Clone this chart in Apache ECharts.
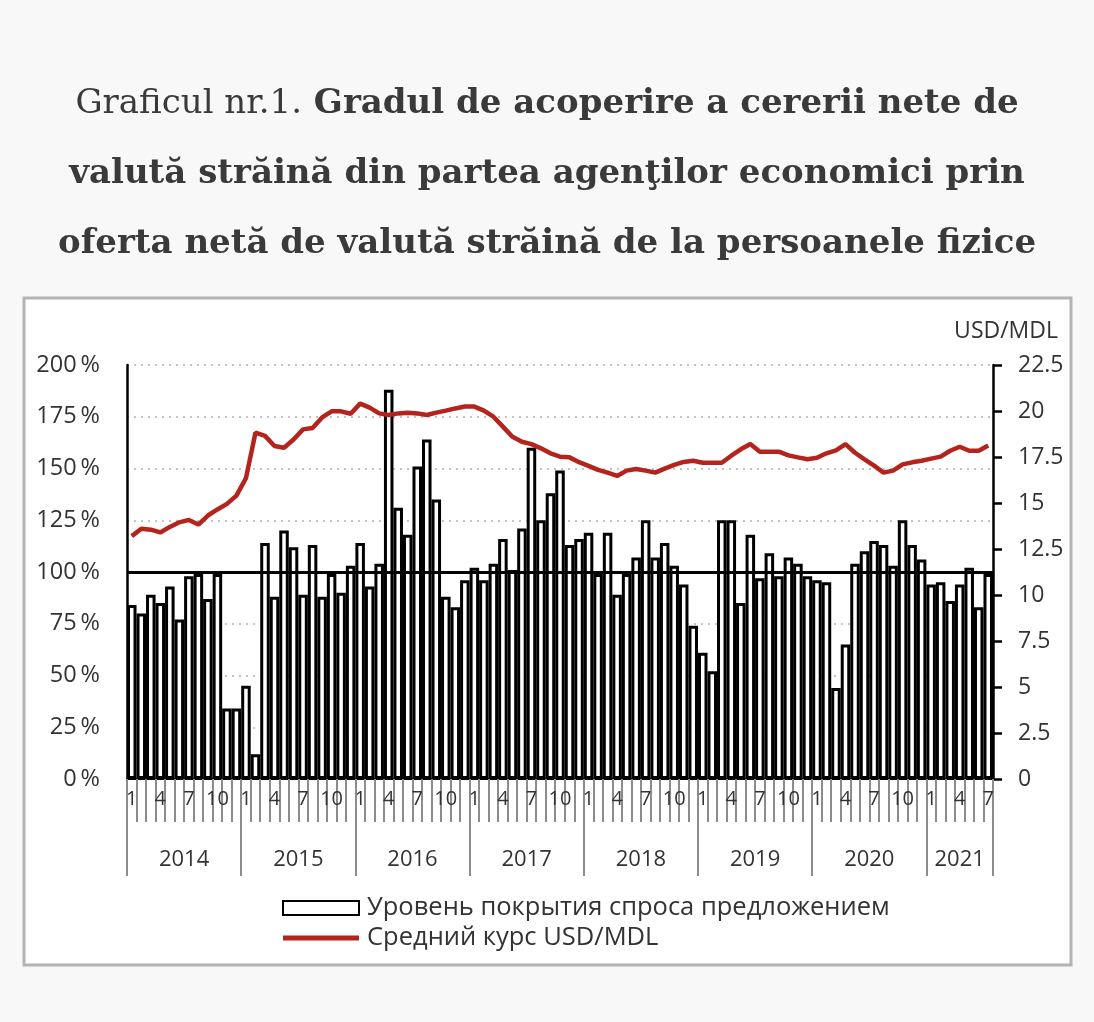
<!DOCTYPE html>
<html>
<head>
<meta charset="utf-8">
<script src="https://cdn.jsdelivr.net/npm/echarts@6/dist/echarts.min.js"></script>
<style>
html,body{margin:0;padding:0;background:#f8f8f8;}
#chart{width:1094px;height:1022px;}
</style>
</head>
<body>
<div id="chart"></div>
<script>
// ---- data ----
const years = ['2014','2015','2016','2017','2018','2019','2020','2021'];
const monthsInYear = [12,12,12,12,12,12,12,7];
const monthTickLabels = ['1','4','7','10'];
const leftTicks = ['0\u2009%','25\u2009%','50\u2009%','75\u2009%','100\u2009%','125\u2009%','150\u2009%','175\u2009%','200\u2009%'];

// Уровень покрытия спроса предложением, %
const coverage = [
  84, 80, 89, 85, 93, 77, 98, 99, 87, 99, 34, 34,          // 2014
  45, 12, 114, 88, 120, 112, 89, 113, 88, 99, 90, 103,     // 2015
  114, 93, 104, 188, 131, 118, 151, 164, 135, 88, 83, 96,  // 2016
  102, 96, 104, 116, 101, 121, 160, 125, 138, 149, 113, 116, // 2017
  119, 99, 119, 89, 99, 107, 125, 107, 114, 103, 94, 74,   // 2018
  61, 52, 125, 125, 85, 118, 97, 109, 98, 107, 104, 98,    // 2019
  96, 95, 44, 65, 104, 110, 115, 113, 103, 125, 113, 106,  // 2020
  94, 95, 86, 94, 102, 83, 99                               // 2021
];
// Средний курс USD/MDL
const rate = [
  13.2, 13.6, 13.55, 13.4, 13.7, 13.95, 14.08, 13.83, 14.32, 14.65, 14.95, 15.4,
  16.35, 18.82, 18.65, 18.1, 18.0, 18.45, 19.0, 19.08, 19.65, 19.98, 19.98, 19.85,
  20.4, 20.18, 19.87, 19.78, 19.87, 19.91, 19.87, 19.78, 19.91, 20.02, 20.14, 20.24,
  20.24, 20.02, 19.69, 19.15, 18.6, 18.33, 18.2, 17.97, 17.7, 17.52, 17.48, 17.22,
  17.02, 16.8, 16.65, 16.47, 16.76, 16.85, 16.76, 16.65, 16.87, 17.07, 17.23, 17.3,
  17.19, 17.19, 17.19, 17.57, 17.92, 18.21, 17.79, 17.79, 17.79, 17.59, 17.48, 17.38,
  17.46, 17.7, 17.86, 18.2, 17.73, 17.37, 17.03, 16.65, 16.76, 17.1, 17.21, 17.3,
  17.41, 17.52, 17.84, 18.06, 17.84, 17.84, 18.12
];
const seriesNames = ['Уровень покрытия спроса предложением', 'Средний курс USD/MDL'];

// ---- build categories ----
const categories = [];
const monthOf = [];
const yearStart = [];
years.forEach((y, yi) => {
  yearStart.push(categories.length);
  for (let m = 1; m <= monthsInYear[yi]; m++) {
    categories.push(y + '-' + m);
    monthOf.push(m);
  }
});
const yearLabelIndex = {};
years.forEach((y, yi) => {
  const n = monthsInYear[yi];
  yearLabelIndex[yearStart[yi] + Math.floor(n / 2)] = { year: y, even: n % 2 === 0 };
});

const sansFont = "'Open Sans', 'Noto Sans', sans-serif";
const serifFont = "'DejaVu Serif', serif";
const textColor = '#333333';
const redColor = '#b5241c';
const lineIcon = 'path://M0,0 L0,0 M0,4.5 L76,4.5 L76,9.5 L0,9.5 Z M0,14 L0,14';

const chart = echarts.init(document.getElementById('chart'));
chart.setOption({
  backgroundColor: '#f8f8f8',
  animation: false,
  title: [
    {
      left: 'center', top: 82,
      text: '{n|Graficul nr.1.} {b|Gradul de acoperire a cererii nete de}',
      textStyle: {
        fontFamily: serifFont, fontSize: 34, color: '#3a3a3a',
        rich: {
          n: { fontFamily: serifFont, fontSize: 34, color: '#3a3a3a', fontWeight: 'normal' },
          b: { fontFamily: serifFont, fontSize: 34, color: '#3a3a3a', fontWeight: 'bold' }
        }
      }
    },
    {
      left: 'center', top: 152,
      text: 'valută străină din partea agenţilor economici prin',
      textStyle: { fontFamily: serifFont, fontSize: 34, color: '#3a3a3a', fontWeight: 'bold' }
    },
    {
      left: 'center', top: 222,
      text: 'oferta netă de valută străină de la persoanele fizice',
      textStyle: { fontFamily: serifFont, fontSize: 34, color: '#3a3a3a', fontWeight: 'bold' }
    }
  ],
  graphic: [
    {
      type: 'rect', z: -10, silent: true,
      shape: { x: 24, y: 298, width: 1047, height: 667 },
      style: { fill: '#ffffff', stroke: '#b4b4b4', lineWidth: 3 }
    },
    {
      type: 'text', silent: true,
      style: {
        text: 'USD/MDL', x: 1058, y: 331, align: 'right', verticalAlign: 'middle',
        fontFamily: sansFont, fontSize: 23, fill: textColor
      }
    }
  ],
  legend: {
    orient: 'vertical', left: 277, top: 890, itemWidth: 76, itemHeight: 14, itemGap: 4,
    data: [
      { name: seriesNames[0], icon: 'rect' },
      { name: seriesNames[1], icon: lineIcon, itemStyle: { color: redColor } }
    ],
    textStyle: { fontFamily: sansFont, fontSize: 25.5, color: textColor, padding: [0, 0, 0, 3] }
  },
  grid: { left: 127, right: 101, top: 365, bottom: 243, containLabel: false, outerBoundsMode: 'none' },
  xAxis: [
    {
      type: 'category', data: categories, position: 'bottom',
      axisLine: { show: true, lineStyle: { color: '#000', width: 2 } },
      axisTick: { show: true, interval: 0, length: 43, lineStyle: { color: '#8c8c8c', width: 2 } },
      axisLabel: {
        interval: 0, margin: 10, fontFamily: sansFont, fontSize: 20, color: textColor,
        formatter: (v, i) => {
          const s = String(monthOf[i]);
          return monthTickLabels.indexOf(s) >= 0 ? s : '';
        }
      },
      splitLine: { show: false }
    },
    {
      type: 'category', data: categories, position: 'bottom',
      axisLine: { show: false },
      axisTick: {
        show: true, length: 97, lineStyle: { color: '#8c8c8c', width: 2 },
        interval: (i) => yearStart.indexOf(i) >= 0
      },
      axisLabel: {
        interval: 0, margin: 70, fontFamily: sansFont, fontSize: 22, color: textColor,
        formatter: (v, i) => {
          const o = yearLabelIndex[i];
          if (!o) return '';
          return o.even ? '{e|' + o.year + '}' : '{o|' + o.year + '}';
        },
        rich: {
          e: { fontFamily: sansFont, fontSize: 22, color: textColor, padding: [0, 9.5, 0, 0] },
          o: { fontFamily: sansFont, fontSize: 22, color: textColor }
        }
      },
      splitLine: { show: false }
    }
  ],
  yAxis: [
    {
      type: 'value', min: 0, max: 200, interval: 25, position: 'left',
      axisLine: { show: true, lineStyle: { color: '#000', width: 2.5 } },
      axisTick: { show: false },
      axisLabel: {
        margin: 27, fontFamily: sansFont, fontSize: 23.5, color: textColor,
        formatter: (v) => leftTicks[Math.round(v / 25)]
      },
      splitLine: { show: true, lineStyle: { color: '#c4c4c4', width: 2, type: [2, 5] } }
    },
    {
      type: 'value', min: 0, max: 22.5, interval: 2.5, position: 'right',
      axisLine: { show: true, lineStyle: { color: '#000', width: 2.5 } },
      axisTick: { show: true, inside: false, length: 9, lineStyle: { color: '#000', width: 2.5 } },
      axisLabel: { margin: 25, fontFamily: sansFont, fontSize: 23, color: textColor },
      splitLine: { show: false }
    }
  ],
  series: [
    {
      name: seriesNames[0], type: 'bar', xAxisIndex: 0, yAxisIndex: 0,
      data: coverage, barCategoryGap: '0%',
      itemStyle: { color: '#ffffff', borderColor: '#000000', borderWidth: 3 },
      markLine: {
        silent: true, symbol: 'none', label: { show: false },
        lineStyle: { color: '#000', width: 3, type: 'solid' },
        data: [{ yAxis: 100 }]
      }
    },
    {
      name: seriesNames[1], type: 'line', xAxisIndex: 0, yAxisIndex: 1,
      data: rate, symbol: 'none', smooth: false, z: 5,
      lineStyle: { color: redColor, width: 4.5 },
      itemStyle: { color: redColor }
    }
  ]
});
</script>
</body>
</html>
